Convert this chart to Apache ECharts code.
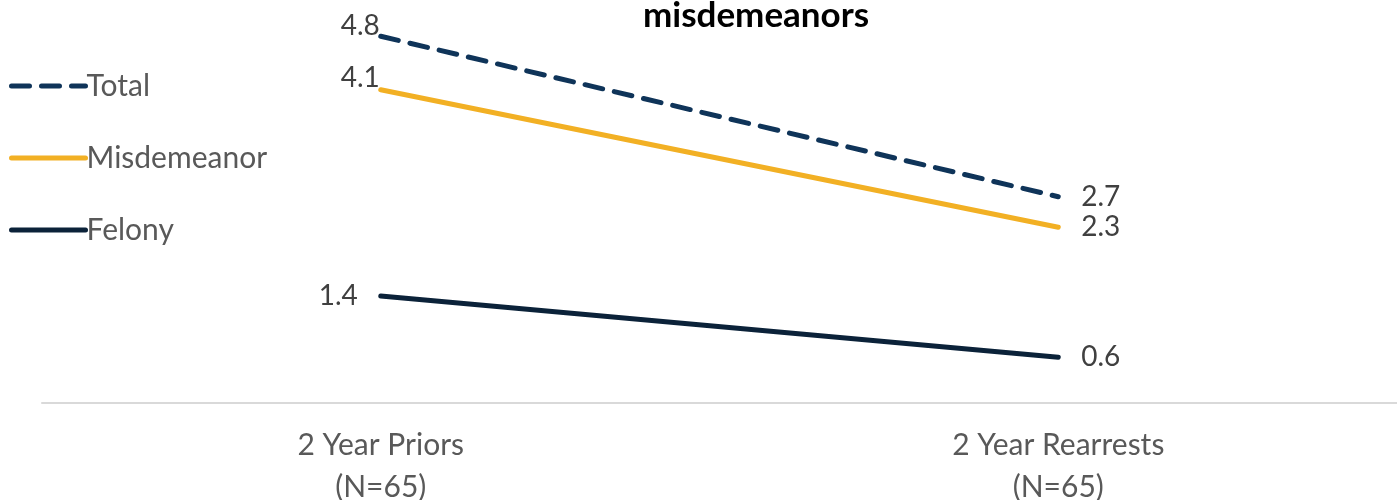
<!DOCTYPE html>
<html><head><meta charset="utf-8">
<script src="https://cdn.jsdelivr.net/npm/echarts@6/dist/echarts.min.js"></script>
<style>html,body{margin:0;padding:0;background:#fff}#c{width:1397px;height:500px}</style>
</head><body><div id="c"></div>
<script>
const categories = ["2 Year Priors\n(N=65)", "2 Year Rearrests\n(N=65)"];
const totalValues = [4.8, 2.7];
const misdemeanorValues = [4.1, 2.3];
const felonyValues = [1.4, 0.6];
const titleText = "misdemeanors";

const FONT = "Lato";
function withLabels(vals, firstLabel) {
  return vals.map((v, i) => ({
    value: v,
    label: Object.assign({ show: true }, i === 0 ? firstLabel : { position: 'right', distance: 22, offset: [0, 0] })
  }));
}
const labelStyle = { show: true, fontFamily: FONT, fontSize: 28, color: '#404040' };
const chart = echarts.init(document.getElementById('c'), null, {renderer: 'canvas'});
chart.setOption({
  animation: false,
  textStyle: { fontFamily: FONT },
  title: {
    text: titleText, left: 751, top: -7, textAlign: 'center',
    textStyle: { fontFamily: FONT, fontWeight: 'bold', fontSize: 35, color: '#000' }
  },
  legend: {
    orient: 'vertical', left: 4, top: 66, itemWidth: 74, itemHeight: 14, itemGap: 42,
    itemStyle: { opacity: 0 },
    lineStyle: { width: 5, cap: 'round' },
    textStyle: { fontFamily: FONT, fontSize: 30, color: '#595959', padding: [0,0,0,-4] },
    data: ['Total', 'Misdemeanor', 'Felony']
  },
  grid: { left: 42, right: 0, top: 21, bottom: 97, outerBoundsMode: 'none', containLabel: false },
  xAxis: {
    type: 'category', data: categories, boundaryGap: true,
    axisLine: { lineStyle: { color: '#d9d9d9', width: 2 } },
    axisTick: { show: false },
    axisLabel: { fontFamily: FONT, fontSize: 30, color: '#595959', lineHeight: 42, margin: 21 }
  },
  yAxis: { type: 'value', min: 0, max: 5, show: false, splitLine: { show: false } },
  series: [
    { name: 'Total', type: 'line', data: withLabels(totalValues, {position: 'left', distance: 0, offset: [0, -10]}),
      symbol: 'circle', symbolSize: 2, showSymbol: true, lineStyle: { color: '#0F3459', width: 5, type: [18, 12], cap: 'round' },
      itemStyle: {color: '#0F3459'}, label: labelStyle },
    { name: 'Misdemeanor', type: 'line', data: withLabels(misdemeanorValues, {position: 'left', distance: 0, offset: [0, -12]}),
      symbol: 'circle', symbolSize: 2, showSymbol: true, lineStyle: { color: '#F2B024', width: 5, cap: 'round' },
      itemStyle: {color: '#F2B024'}, label: labelStyle },
    { name: 'Felony', type: 'line', data: withLabels(felonyValues, {position: 'left', distance: 22, offset: [0, 0]}),
      symbol: 'circle', symbolSize: 2, showSymbol: true, lineStyle: { color: '#0B2239', width: 5, cap: 'round' },
      itemStyle: {color: '#0B2239'}, label: labelStyle }
  ]
});
</script></body></html>
